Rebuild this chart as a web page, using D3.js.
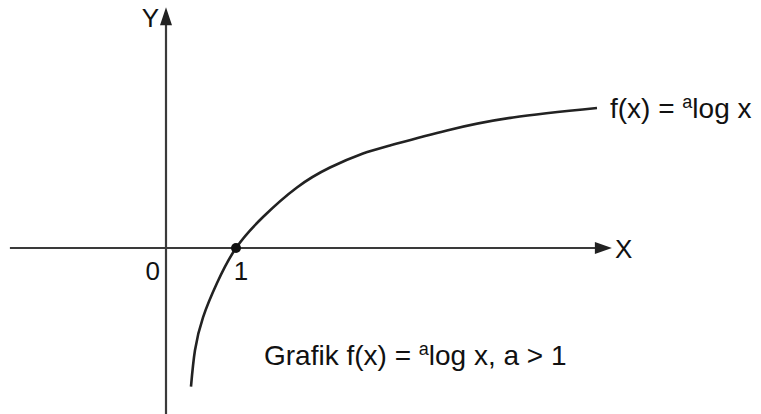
<!DOCTYPE html>
<html>
<head>
<meta charset="utf-8">
<script src="https://cdn.jsdelivr.net/npm/d3@7"></script>
<style>
html,body{margin:0;padding:0;background:#fff;}
svg{display:block;}
text{font-family:"Liberation Sans",Arial,Helvetica,sans-serif;fill:#111;}
</style>
</head>
<body>
<script>
// Curve points (data units)
const curveX = [0.357, 0.414, 0.529, 0.729, 1.0, 1.386, 1.871, 2.343, 2.814, 3.2, 4.014, 4.957, 6.157];
const curveY = [-1.98, -1.46, -0.99, -0.50, 0.0, 0.443, 0.865, 1.15, 1.35, 1.465, 1.68, 1.865, 2.0];
const markedPoint = [1, 0];
const xAxisExtent = [-2.23, 6.37];
const yAxisExtent = [-2.4, 3.44];
const tickLabels = [{v: 0, t: "0"}, {v: 1, t: "1"}];

const W = 761, H = 414;
const svg = d3.select("body").append("svg").attr("width", W).attr("height", H);

const x = d3.scaleLinear().domain([0, 1]).range([166, 236]);
const y = d3.scaleLinear().domain([0, 1]).range([248, 178]);

const axisColor = "#3a3a3a";

// x axis
svg.append("line")
  .attr("x1", x(xAxisExtent[0])).attr("x2", x(xAxisExtent[1]) - 14)
  .attr("y1", y(0)).attr("y2", y(0))
  .attr("stroke", axisColor).attr("stroke-width", 2.2);
const xt = x(xAxisExtent[1]);
svg.append("path")
  .attr("d", `M${xt},${y(0)} L${xt - 17},${y(0) - 6} L${xt - 17},${y(0) + 6} Z`)
  .attr("fill", "#222");

// y axis
svg.append("line")
  .attr("x1", x(0)).attr("x2", x(0))
  .attr("y1", y(yAxisExtent[0])).attr("y2", y(yAxisExtent[1]) + 14)
  .attr("stroke", axisColor).attr("stroke-width", 2.2);
const yt = y(yAxisExtent[1]);
svg.append("path")
  .attr("d", `M${x(0)},${yt} L${x(0) - 6},${yt + 18} L${x(0) + 6},${yt + 18} Z`)
  .attr("fill", "#222");

// curve
const pts = curveX.map((d, i) => [d, curveY[i]]);
svg.append("path")
  .datum(pts)
  .attr("d", d3.line().x(d => x(d[0])).y(d => y(d[1])).curve(d3.curveNatural))
  .attr("fill", "none").attr("stroke", "#222").attr("stroke-width", 2.6)
  .attr("stroke-linecap", "butt");

// point
svg.append("circle")
  .attr("cx", x(markedPoint[0])).attr("cy", y(markedPoint[1])).attr("r", 5)
  .attr("fill", "#111");

// axis labels
svg.append("text").attr("x", x(0) - 7).attr("y", 27).attr("text-anchor", "end")
  .attr("font-size", 26).text("Y");
svg.append("text").attr("x", xt + 3).attr("y", y(0) + 10).attr("text-anchor", "start")
  .attr("font-size", 26).text("X");

// tick labels
svg.selectAll("text.tick").data(tickLabels).enter().append("text")
  .attr("class", "tick")
  .attr("x", d => d.v === 0 ? x(0) - 6 : x(d.v) + 5)
  .attr("y", y(0) + 32)
  .attr("text-anchor", d => d.v === 0 ? "end" : "middle")
  .attr("font-size", 26)
  .text(d => d.t);

// curve label
function formula(sel, prefix, suffix) {
  sel.append("tspan").text(prefix + "f(x) = ");
  sel.append("tspan").attr("dy", -10).attr("font-size", 18).text("a");
  sel.append("tspan").attr("dy", 10).text("log x" + suffix);
}
const lab = svg.append("text").attr("x", 610).attr("y", 118).attr("font-size", 28);
formula(lab, "", "");
const cap = svg.append("text").attr("x", 264).attr("y", 365).attr("font-size", 28);
formula(cap, "Grafik ", ", a > 1");
</script>
</body>
</html>
